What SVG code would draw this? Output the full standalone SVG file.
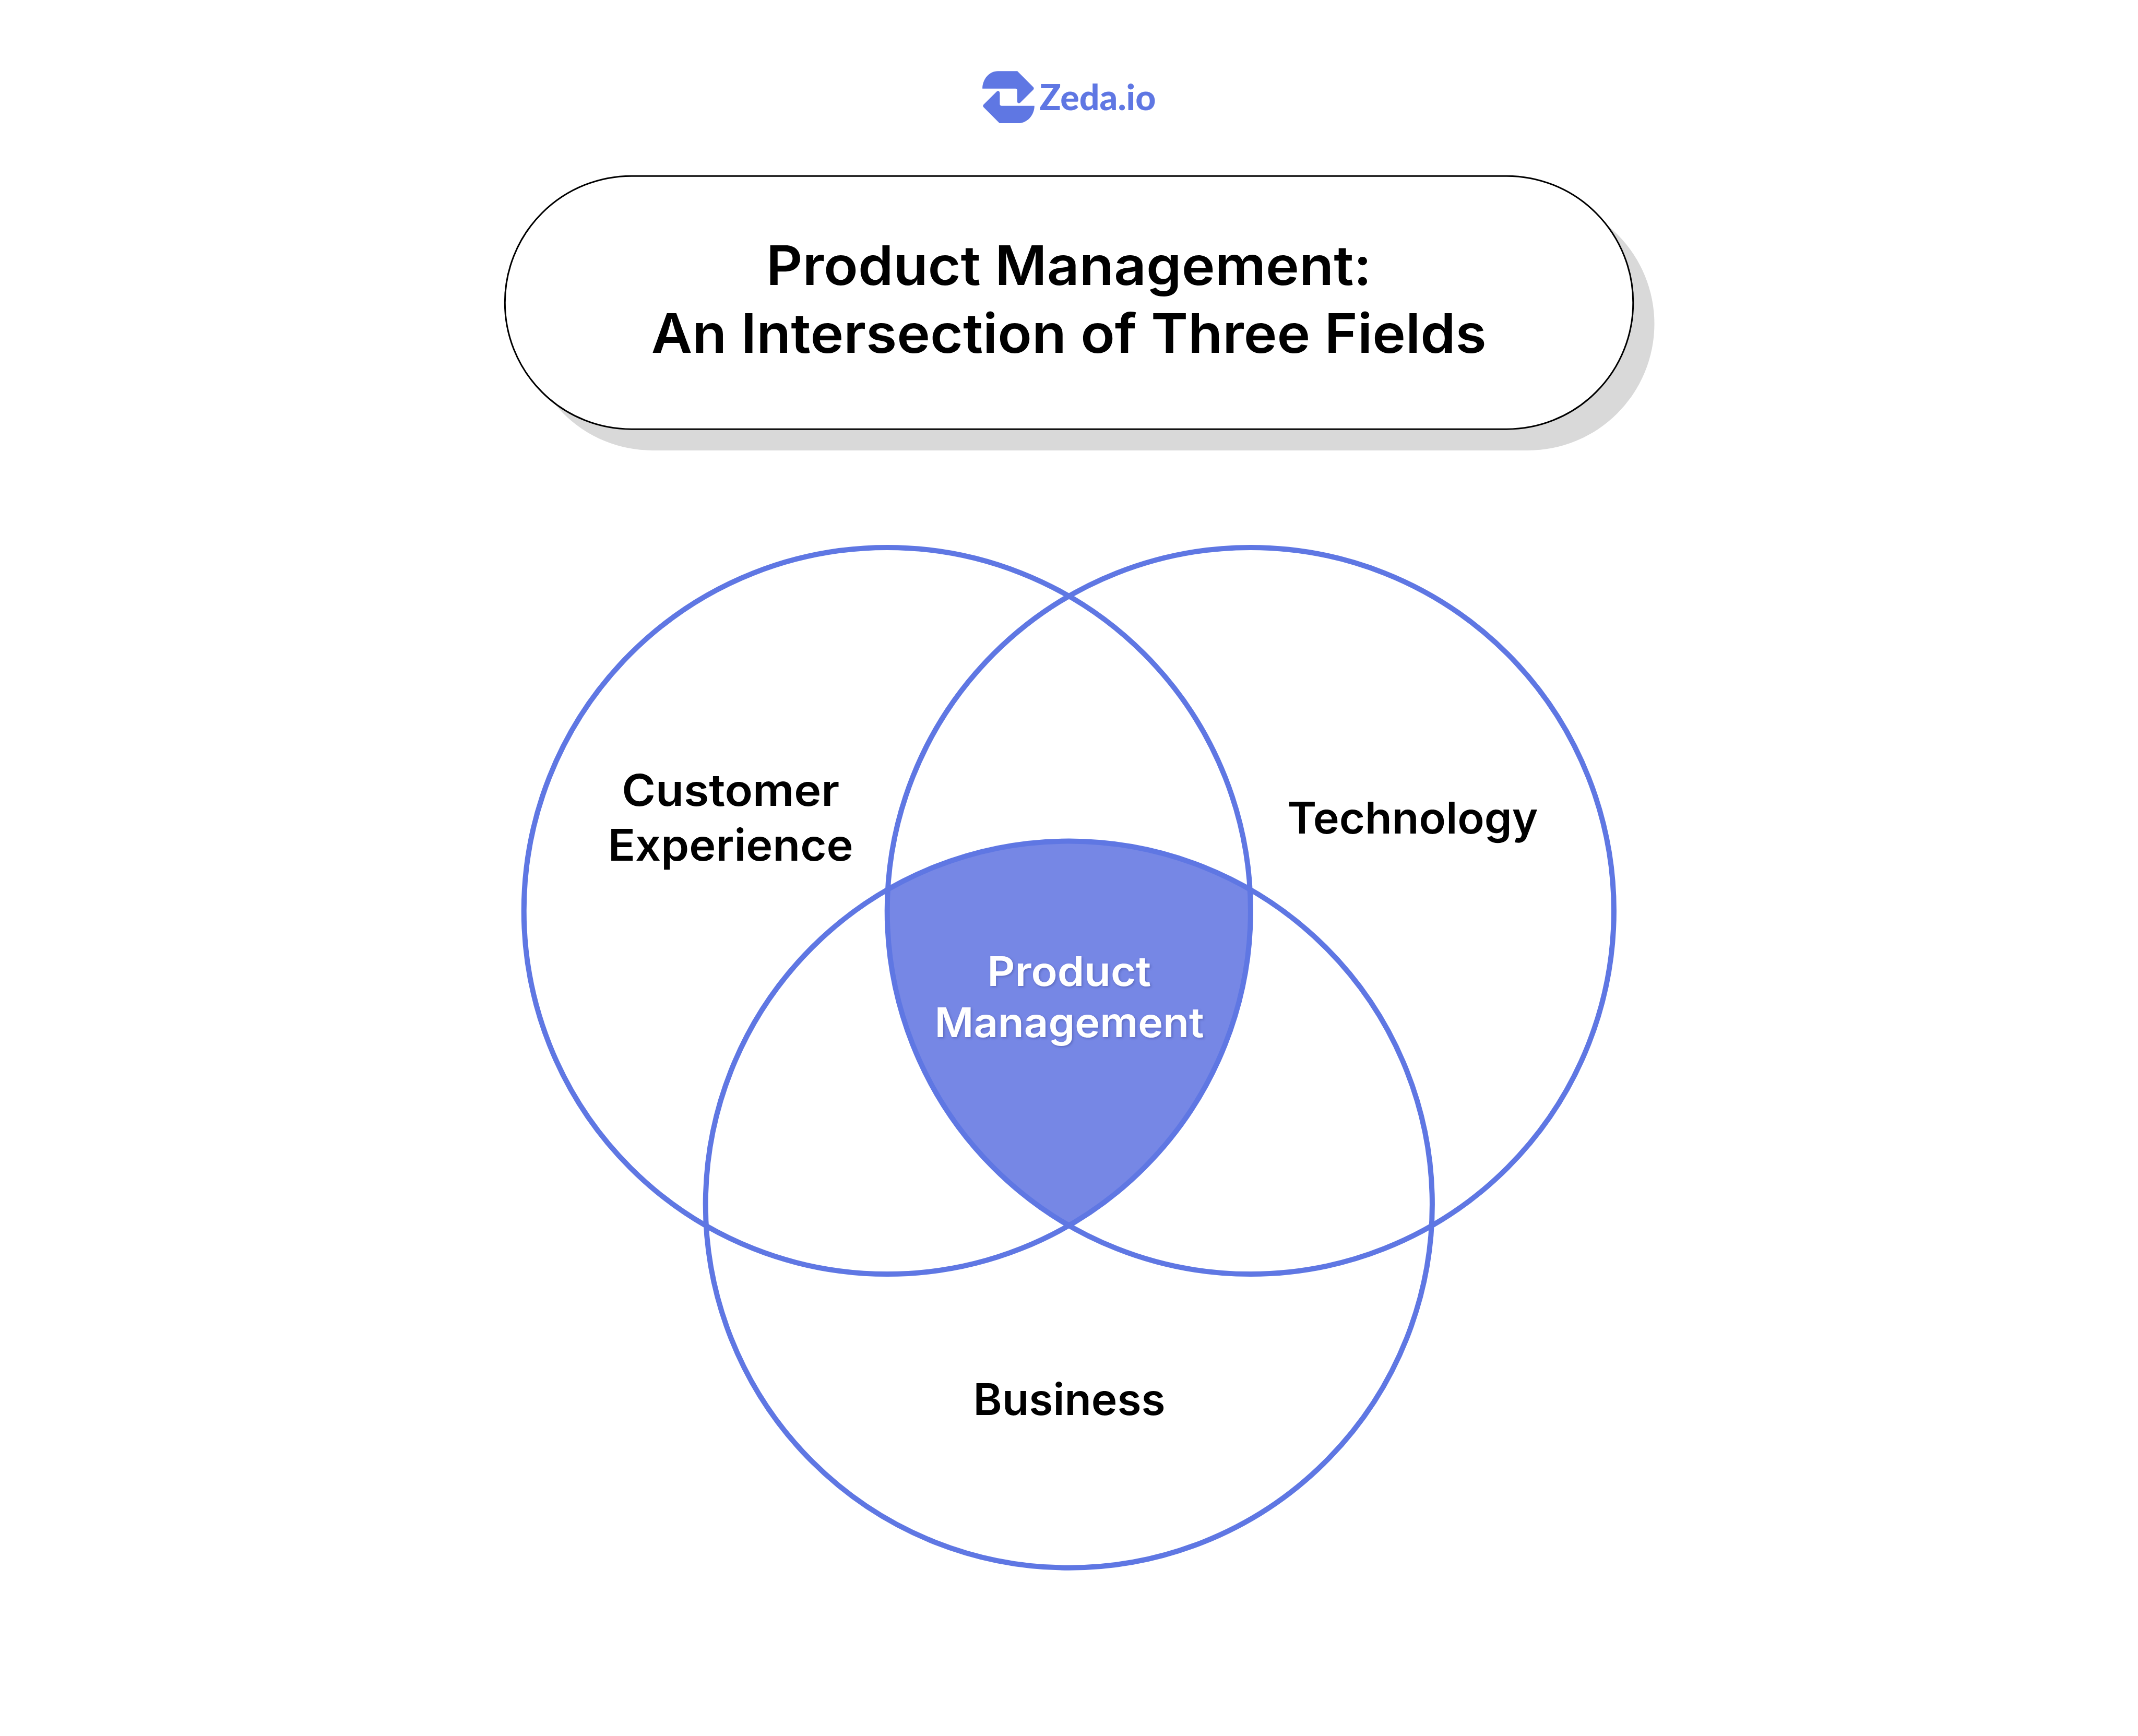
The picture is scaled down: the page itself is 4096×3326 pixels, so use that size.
<svg xmlns="http://www.w3.org/2000/svg" width="4096" height="3326" viewBox="0 0 4096 3326">
<style>
text{font-family:"Inter","Liberation Sans",sans-serif;text-anchor:middle}
.title{font-size:104px;font-weight:600;fill:#000}
.label{font-size:84px;font-weight:600;fill:#000}
.inner{font-size:78px;font-weight:600;fill:#fff;filter:drop-shadow(2px 2px 2px rgba(40,50,120,.35))}
.ring{fill:none;stroke:#5f77e3;stroke-width:10}
.brand{fill:#5f77e3}
</style>
<defs>
<clipPath id="a"><circle cx="1699.8" cy="1745" r="696.1"/></clipPath>
<clipPath id="c"><circle cx="2047.8" cy="2307.6" r="696.1"/></clipPath>
</defs>
<rect width="4096" height="3326" fill="#fff"/>
<g id="logo">
<g transform="translate(1825.07 104.29) scale(.28969)" class="brand">
<path d="M197 226C197 165 240 110 300 110H428L533 216Q541 225 533 234L446 320Q430 330 427 310V238Q427 226 415 226Z"/>
<path d="M541 340C541 400 495 455 435 455H310L205 349Q197 340 205 331L292 245Q308 235 312 255V328Q312 340 324 340Z"/>
</g>
<text x="2103" y="210.6" class="brand" style="font-family:'Lato',sans-serif;font-size:68px;font-weight:900" textLength="223" lengthAdjust="spacingAndGlyphs">Zeda.io</text>
</g>
<g id="title">
<rect x="1008" y="378" width="2161.5" height="485" rx="242.5" fill="#d9d9d9"/>
<rect x="967.3" y="337.2" width="2161.5" height="485" rx="242.5" fill="#fff" stroke="#000" stroke-width="3"/>
<text x="2047.8" y="545.8" class="title" textLength="1160" lengthAdjust="spacingAndGlyphs">Product Management:</text>
<text x="2047.8" y="676" class="title" textLength="1600" lengthAdjust="spacingAndGlyphs">An Intersection of Three Fields</text>
</g>
<g id="overlap">
<g clip-path="url(#a)"><circle cx="2395.8" cy="1745" r="696.1" fill="#7687e5" clip-path="url(#c)"/></g>
</g>
<g id="customer-experience"><circle class="ring" cx="1699.8" cy="1745" r="696.1"/>
<text x="1399.7" y="1544" class="label" textLength="417" lengthAdjust="spacingAndGlyphs">Customer</text><text x="1399.7" y="1649" class="label" textLength="470" lengthAdjust="spacingAndGlyphs">Experience</text></g>
<g id="technology"><circle class="ring" cx="2395.8" cy="1745" r="696.1"/>
<text x="2706.5" y="1596.6" class="label" textLength="480" lengthAdjust="spacingAndGlyphs">Technology</text></g>
<g id="business"><circle class="ring" cx="2047.8" cy="2307.6" r="696.1"/>
<text x="2048.6" y="2710.6" class="label" textLength="368" lengthAdjust="spacingAndGlyphs">Business</text></g>
<g id="product-management">
<text x="2048.2" y="1888.6" class="inner" textLength="314" lengthAdjust="spacingAndGlyphs">Product</text><text x="2048.6" y="1987" class="inner" textLength="516" lengthAdjust="spacingAndGlyphs">Management</text></g>
<g id="connectors"/>
</svg>
